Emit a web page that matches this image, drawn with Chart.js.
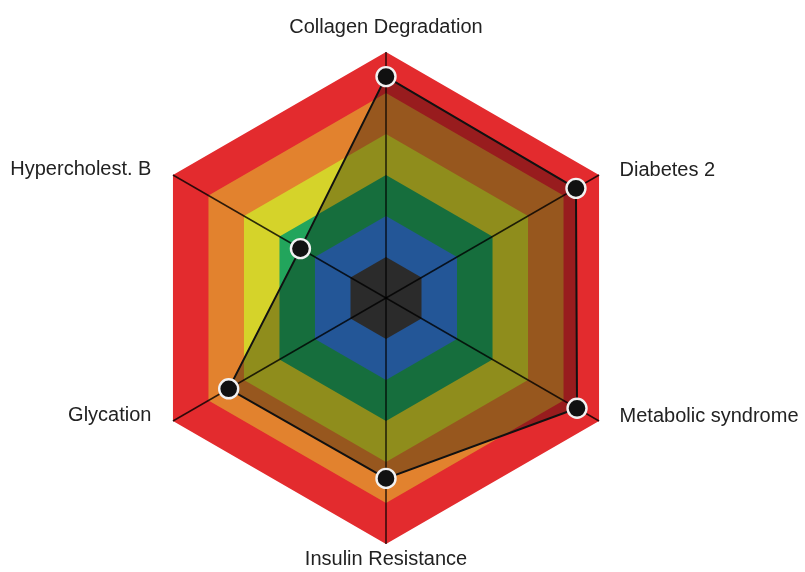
<!DOCTYPE html>
<html>
<head>
<meta charset="utf-8">
<script src="https://cdn.jsdelivr.net/npm/chart.js@4/dist/chart.umd.min.js"></script>
<style>
html,body{margin:0;padding:0;background:#fff;}
#wrap{width:805px;height:572px;}
</style>
</head>
<body>
<div id="wrap"><canvas id="c" width="805" height="572"></canvas></div>
<script>
const categories = ["Collagen Degradation","Diabetes 2","Metabolic syndrome","Insulin Resistance","Glycation","Hypercholest. B"];
const scoreValues = [5.4, 5.35, 5.38, 4.4, 4.43, 2.41];
const bandLevels = [1, 2, 3, 4, 5, 6];
const bandColors = ["#414141","#3580e1","#22a55c","#d5d32a","#e2822e","#e32b2e"];
const scaleMax = 6;

const datasets = [{
  label: "Score",
  data: scoreValues,
  order: 0,
  fill: true,
  backgroundColor: "rgba(0,0,0,0.33)",
  borderColor: "#111",
  borderWidth: 2,
  pointRadius: 9.5,
  pointBackgroundColor: "#111",
  pointBorderColor: "#f2f2f2",
  pointBorderWidth: 2.4,
  pointHoverRadius: 9.5
}];
bandLevels.forEach((lv, i) => {
  datasets.push({
    label: "band" + lv,
    data: categories.map(() => lv),
    order: lv,
    fill: "origin",
    backgroundColor: bandColors[i],
    borderWidth: 0,
    borderColor: bandColors[i],
    pointRadius: 0,
    pointHoverRadius: 0
  });
});

const angleLinePlugin = {
  id: "angleLinesOver",
  beforeDatasetDraw(chart, args) {
    if (args.index !== 0) return;
    const s = chart.scales.r;
    const ctx = chart.ctx;
    ctx.save();
    ctx.strokeStyle = "rgba(0,0,0,0.8)";
    ctx.lineWidth = 1.5;
    const outer = s.getDistanceFromCenterForValue(scaleMax);
    for (let i = 0; i < categories.length; i++) {
      const p = s.getPointPosition(i, outer);
      ctx.beginPath();
      ctx.moveTo(s.xCenter, s.yCenter);
      ctx.lineTo(p.x, p.y);
      ctx.stroke();
    }
    ctx.restore();
  }
};

const labelPlugin = {
  id: "axisLabels",
  afterDraw(chart) {
    const s = chart.scales.r;
    const ctx = chart.ctx;
    ctx.save();
    ctx.fillStyle = "#222";
    ctx.font = "20px 'Liberation Sans', Arial, sans-serif";
    ctx.textBaseline = "alphabetic";
    const outer = s.getDistanceFromCenterForValue(scaleMax);
    categories.forEach((name, i) => {
      const p = s.getPointPosition(i, outer);
      const dx = p.x - s.xCenter;
      const dy = p.y - s.yCenter;
      let x = p.x, y = p.y;
      if (Math.abs(dx) < 1) {
        ctx.textAlign = "center";
        y = dy < 0 ? p.y - 19 : p.y + 21;
      } else if (dx > 0) {
        ctx.textAlign = "left";
        x = p.x + 20.5;
        y = p.y + 0.5;
      } else {
        ctx.textAlign = "right";
        x = p.x - 21.5;
        y = p.y + 0.3;
      }
      ctx.fillText(name, x, y);
    });
    ctx.restore();
  }
};

new Chart(document.getElementById("c"), {
  type: "radar",
  data: { labels: categories, datasets },
  plugins: [angleLinePlugin, labelPlugin],
  options: {
    responsive: false,
    animation: false,
    layout: { padding: { top: 52, bottom: 27, left: 140, right: 172 } },
    elements: { line: { tension: 0 } },
    plugins: { legend: { display: false }, tooltip: { enabled: false } },
    scales: {
      r: {
        min: 0,
        max: scaleMax,
        ticks: { display: false, stepSize: 1 },
        grid: { display: false },
        angleLines: { display: false },
        pointLabels: { display: false }
      }
    }
  }
});
</script>
</body>
</html>
